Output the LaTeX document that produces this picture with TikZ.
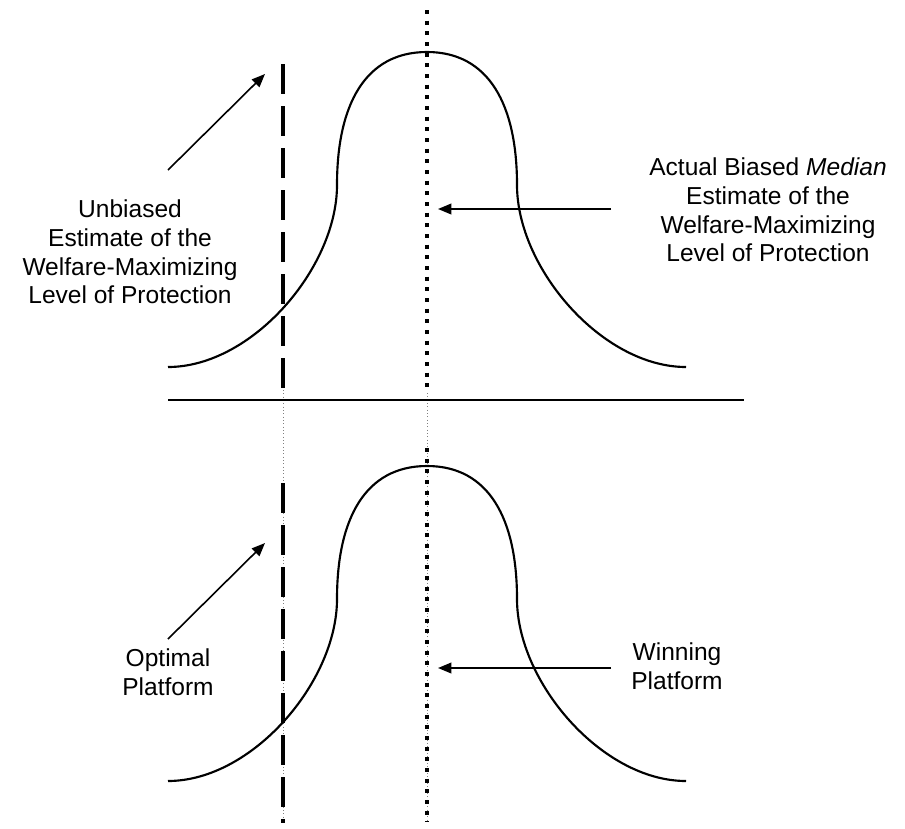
\documentclass[tikz,border=0pt]{standalone}
\usepackage{fontspec}
\setmainfont{Liberation Sans}
\usetikzlibrary{arrows.meta,calc}

\begin{document}
\begin{tikzpicture}[x=0.75pt,y=-0.75pt,>={Triangle[length=10pt,width=8pt]},line join=round,
	bell/.style={line width=1.6pt},
	axisline/.style={line width=2pt},
	unbiased/.style={line width=3pt,dash pattern=on 22.5pt off 9pt},
	median/.style={line width=3pt,dash pattern=on 3pt off 5pt},
	guide/.style={gray,line width=0.5pt,dotted},
	ptr/.style={->,line width=1.2pt},
	lbl/.style={align=center,font=\fontsize{18.4pt}{21.4pt}\selectfont}]
	
	\useasboundingbox (0,0) rectangle (905,828);
	
	% sizes
	\def\xu{283}  % unbiased / optimal
	\def\xm{427}  % median / winning
	\def\dy{414}  % shift of lower panel
	
	% thin guides between panels
	\draw[guide] (\xu,390) -- (\xu,823);
	\draw[guide] (\xm,393) -- (\xm,822);
	
	% the two bells
	\foreach \yy in {0,\dy}{
		\begin{scope}[shift={(0,\yy)}]
			\draw[bell] (168,367) .. controls (252,367) and (337,268) .. (337,185)
			.. controls (337,105) and (365,52) .. (\xm,52)
			.. controls (489,52) and (517,105) .. (517,185)
			.. controls (517,268) and (602,367) .. (686,367);
		\end{scope}
	}
	
	% axis
	\draw[axisline] (168,400) -- (744,400);
	
	% vertical lines
	\draw[unbiased] (\xu,64) -- (\xu,390);
	\draw[unbiased] (\xu,483) -- (\xu,823);
	\draw[median] (\xm,10) -- (\xm,393);
	\draw[median] (\xm,448) -- (\xm,822);
	
	% labels
	\node[lbl] (unb) at (130,252) {Unbiased\\Estimate of the\\Welfare-Maximizing\\Level of Protection};
	\node[lbl] (act) at (768,210) {Actual Biased \textit{Median}\\Estimate of the\\Welfare-Maximizing\\Level of Protection};
	\node[lbl] (opt) at (168,672) {Optimal\\Platform};
	\node[lbl] (win) at (677,666) {Winning\\Platform};
	
	% arrow ends
	\coordinate (unbA) at (168,170);
	\coordinate (unbB) at (265,74);
	\coordinate (actA) at (611,209);
	\coordinate (actB) at (438,209);
	\coordinate (optA) at (168,639);
	\coordinate (optB) at (265,543);
	\coordinate (winA) at (611,668);
	\coordinate (winB) at (438,668);
	
	\draw[ptr] (unbA) -- (unbB);
	\draw[ptr] (actA) -- (actB);
	\draw[ptr] (optA) -- (optB);
	\draw[ptr] (winA) -- (winB);
	
\end{tikzpicture}
\end{document}
